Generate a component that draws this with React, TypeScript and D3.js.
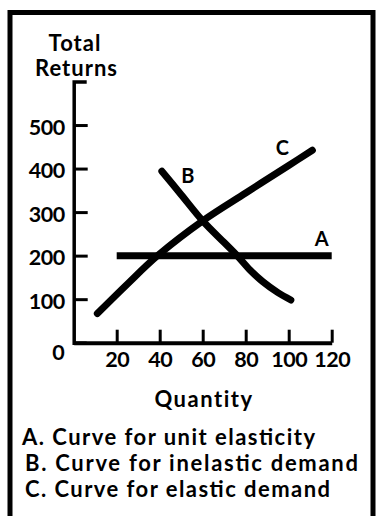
import React, { useEffect, useRef } from "react";
import * as d3 from "d3";

// Quantity / total-returns schedule for three demand curves
const quantityTicks = [20, 40, 60, 80, 100, 120];
const returnTicks = [100, 200, 300, 400, 500];

const unitQuantity = [20, 120];
const unitReturns = [200, 200];

const inelasticQuantity = [41, 50, 60, 70, 76, 82, 88, 95, 101];
const inelasticReturns = [394, 340, 280, 230, 200, 167, 140, 115, 98];

const elasticQuantity = [11, 25, 39, 60, 80, 100, 111];
const elasticReturns = [67, 135, 200, 280, 344, 407, 442];

const curveNames = ["A", "B", "C"];
const legendLines = [
  "A. Curve for unit elasticity",
  "B. Curve for inelastic demand",
  "C. Curve for elastic demand",
];
const legendWidths = [293, 333, 305];

const W = 376;
const H = 516;
const FONT = "Lato, 'Liberation Sans', sans-serif";

export default function App() {
  const ref = useRef<SVGSVGElement | null>(null);

  useEffect(() => {
    const svg = d3.select(ref.current);
    svg.selectAll("*").remove();

    const x = d3.scaleLinear().domain([0, 120]).range([73.7, 331.7]);
    const y = d3.scaleLinear().domain([0, 600]).range([342.7, 81.5]);

    // frame
    svg
      .append("path")
      .attr("d", `M10,${H + 10}V12.5H373V${H + 10}`)
      .attr("fill", "none")
      .attr("stroke", "#000")
      .attr("stroke-width", 5);

    // y axis, ticks pointing inward
    const yAxis = d3
      .axisLeft(y)
      .tickValues(returnTicks)
      .tickSizeInner(-14)
      .tickSizeOuter(-13)
      .tickPadding(9);
    const gy = svg.append("g").attr("transform", "translate(73.7,0)").call(yAxis);
    gy.select(".domain").attr("stroke-width", 3.5);
    gy.selectAll(".tick line").attr("stroke-width", 3);
    gy.selectAll(".tick text")
      .attr("font-family", FONT)
      .attr("font-weight", 700)
      .attr("font-size", 21.5)
      .attr("letter-spacing", -0.5)
      .attr("dy", "0.42em")
      .attr("fill", "#000");

    // x axis, ticks pointing up
    const xAxis = d3
      .axisBottom(x)
      .tickValues(quantityTicks)
      .tickSizeInner(-13)
      .tickSizeOuter(0)
      .tickPadding(9);
    const gx = svg.append("g").attr("transform", "translate(0,342.7)").call(xAxis);
    gx.select(".domain").attr("stroke-width", 4);
    gx.selectAll(".tick line").attr("stroke-width", 3);
    gx.selectAll(".tick text")
      .attr("font-family", FONT)
      .attr("font-weight", 700)
      .attr("font-size", 21.5)
      .attr("letter-spacing", -0.5)
      .attr("fill", "#000");

    svg
      .append("text")
      .attr("x", x(0) - 9)
      .attr("y", y(0) + 17)
      .attr("text-anchor", "end")
      .attr("font-family", FONT)
      .attr("font-weight", 700)
      .attr("font-size", 21.5)
      .text("0");

    // axis titles
    const titles = [
      { t: "Total", x: 75, y: 50.7, ls: 1 },
      { t: "Returns", x: 76.5, y: 76, ls: 1 },
      { t: "Quantity", x: 204, y: 407, ls: 1.5 },
    ];
    svg
      .selectAll("text.title")
      .data(titles)
      .join("text")
      .attr("class", "title")
      .attr("x", (d) => d.x)
      .attr("y", (d) => d.y)
      .attr("text-anchor", "middle")
      .attr("font-family", FONT)
      .attr("font-weight", 700)
      .attr("font-size", 22)
      .attr("letter-spacing", (d) => d.ls)
      .text((d) => d.t);

    // curves
    const series = [
      { q: unitQuantity, r: unitReturns, cap: "butt" },
      { q: inelasticQuantity, r: inelasticReturns, cap: "round" },
      { q: elasticQuantity, r: elasticReturns, cap: "round" },
    ];
    const line = d3
      .line<[number, number]>()
      .x((d) => x(d[0]))
      .y((d) => y(d[1]))
      .curve(d3.curveCatmullRom.alpha(0.5));

    series.forEach((s) => {
      const pts = s.q.map((q, i) => [q, s.r[i]] as [number, number]);
      svg
        .append("path")
        .attr("d", line(pts))
        .attr("fill", "none")
        .attr("stroke", "#000")
        .attr("stroke-width", 7)
        .attr("stroke-linecap", s.cap);
    });

    // curve letters, offset from a curve end
    const labelAnchors = [
      { q: unitQuantity[1], r: unitReturns[1], dx: -10, dy: -10 },
      { q: inelasticQuantity[0], r: inelasticReturns[0], dx: 26, dy: 12 },
      { q: elasticQuantity[elasticQuantity.length - 1], r: elasticReturns[elasticReturns.length - 1], dx: -30, dy: 5 },
    ];
    labelAnchors.forEach((a, i) => {
      svg
        .append("text")
        .attr("x", x(a.q) + a.dx)
        .attr("y", y(a.r) + a.dy)
        .attr("text-anchor", "middle")
        .attr("font-family", FONT)
        .attr("font-weight", 700)
        .attr("font-size", 20)
        .text(curveNames[i]);
    });

    // legend
    svg
      .selectAll("text.legend")
      .data(legendLines)
      .join("text")
      .attr("class", "legend")
      .attr("x", (_d, i) => (i === 0 ? 22 : 25))
      .attr("y", (_d, i) => 444.5 + i * 26.3)
      .attr("font-family", FONT)
      .attr("font-weight", 700)
      .attr("font-size", 22)
      .attr("textLength", (_d, i) => legendWidths[i])
      .attr("lengthAdjust", "spacing")
      .text((d) => d);
  }, []);

  return (
    <svg
      ref={ref}
      width={W}
      height={H}
      style={{ position: "absolute", left: 0, top: 0, background: "#fff" }}
    />
  );
}
